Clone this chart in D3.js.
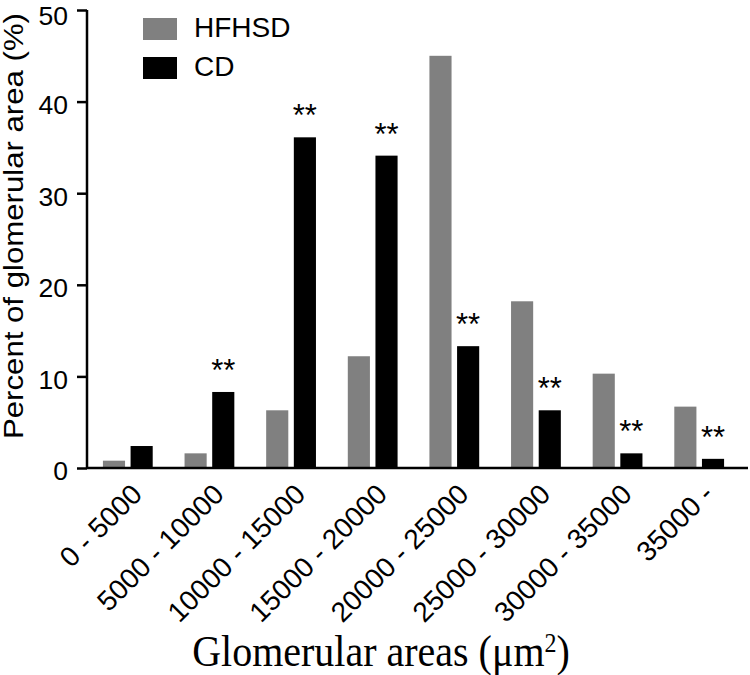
<!DOCTYPE html>
<html>
<head>
<meta charset="utf-8">
<script src="https://cdn.jsdelivr.net/npm/d3@7"></script>
<style>
  html, body { margin: 0; padding: 0; background: #fff; }
  svg { display: block; }
</style>
</head>
<body>
<svg id="chart" width="750" height="675"></svg>
<script>
const categories = ["0 - 5000", "5000 - 10000", "10000 - 15000", "15000 - 20000",
                    "20000 - 25000", "25000 - 30000", "30000 - 35000", "35000 -"];
const seriesNames = ["HFHSD", "CD"];
const hfhsdValues = [0.8, 1.6, 6.3, 12.2, 45.0, 18.2, 10.3, 6.7];
const cdValues = [2.4, 8.3, 36.1, 34.1, 13.3, 6.3, 1.6, 1.0];
const cdSignificance = ["", "**", "**", "**", "**", "**", "**", "**"];
const yTicks = [0, 10, 20, 30, 40, 50];
const seriesColors = ["#808080", "#000000"];

(function () {
const svg = d3.select("#chart");
const mLeft = 87, mRight = 740, mTop = 10, mBottom = 468;
const sans = "Arial, 'Liberation Sans', sans-serif";

const y = d3.scaleLinear().domain([0, 50]).range([mBottom, mTop]);
const x0 = d3.scaleBand().domain(categories).range([mLeft, mRight])
  .paddingInner(0.39).paddingOuter(0.195);
const x1 = d3.scaleBand().domain(seriesNames).range([0, x0.bandwidth()]).paddingInner(0.2);
const color = d3.scaleOrdinal().domain(seriesNames).range(seriesColors);

const rows = categories.map((c, i) => ({
  cat: c,
  values: [{ s: "HFHSD", v: hfhsdValues[i] }, { s: "CD", v: cdValues[i] }],
  sig: cdSignificance[i],
  cd: cdValues[i]
}));

// bars
const groups = svg.append("g").selectAll("g").data(rows).join("g")
  .attr("transform", d => `translate(${x0(d.cat)},0)`);
groups.selectAll("rect").data(d => d.values).join("rect")
  .attr("x", d => x1(d.s))
  .attr("y", d => y(d.v))
  .attr("width", x1.bandwidth())
  .attr("height", d => y(0) - y(d.v))
  .attr("fill", d => color(d.s));

// significance stars
groups.append("text")
  .attr("x", x1("CD") + x1.bandwidth() / 2)
  .attr("y", d => y(d.cd) - 11)
  .attr("text-anchor", "middle")
  .style("font-family", sans)
  .style("font-size", "31px")
  .text(d => d.sig);

// y axis
const yAxis = d3.axisLeft(y).tickValues(yTicks).tickSize(10).tickPadding(9).tickFormat(d3.format("d"));
const yg = svg.append("g").attr("transform", `translate(${mLeft},0)`).call(yAxis);
yg.select(".domain").attr("stroke", "#000").attr("stroke-width", 2.5).attr("d", `M0,${mTop}V${mBottom}`);
yg.selectAll(".tick line").attr("stroke", "#000").attr("stroke-width", 2.5);
yg.selectAll(".tick text")
  .style("font-family", sans)
  .style("font-size", "26.5px").attr("fill", "#000")
  .attr("dy", d => d === y.domain()[1] ? "0.55em" : "0.45em");

// x axis
const xAxis = d3.axisBottom(x0).tickSize(0).tickSizeOuter(0);
const xg = svg.append("g").attr("transform", `translate(0,${mBottom})`).call(xAxis);
xg.select(".domain").attr("stroke", "#000").attr("stroke-width", 2.5).attr("d", `M${mLeft},0H748`);
xg.selectAll(".tick text")
  .style("font-family", sans)
  .style("font-size", "28px").attr("fill", "#000")
  .attr("text-anchor", "end")
  .attr("dy", null)
  .attr("y", 0)
  .attr("transform", "translate(16,28) rotate(-45)");

// axis titles
svg.append("text")
  .attr("transform", "translate(23,226) rotate(-90)")
  .attr("text-anchor", "middle")
  .attr("textLength", 426)
  .attr("lengthAdjust", "spacingAndGlyphs")
  .style("font-family", sans)
  .style("font-size", "27px")
  .text("Percent of glomerular area (%)");

const xt = svg.append("text")
  .attr("transform", "translate(381,666) scale(1,1.1)")
  .attr("text-anchor", "middle")
  .style("font-family", "'Times New Roman', 'Liberation Serif', serif")
  .style("font-size", "40px");
xt.append("tspan").text("Glomerular areas (μm");
xt.append("tspan").attr("baseline-shift", "super").style("font-size", "24px").text("2");
xt.append("tspan").text(")");

// legend
const legend = svg.append("g").selectAll("g").data(seriesNames).join("g")
  .attr("transform", (d, i) => `translate(143,${18 + i * 39})`);
legend.append("rect").attr("width", 34).attr("height", 22).attr("fill", d => color(d));
legend.append("text").attr("x", 51).attr("y", 19)
  .style("font-family", sans)
  .style("font-size", "28px")
  .text(d => d);
})();
</script>
</body>
</html>
